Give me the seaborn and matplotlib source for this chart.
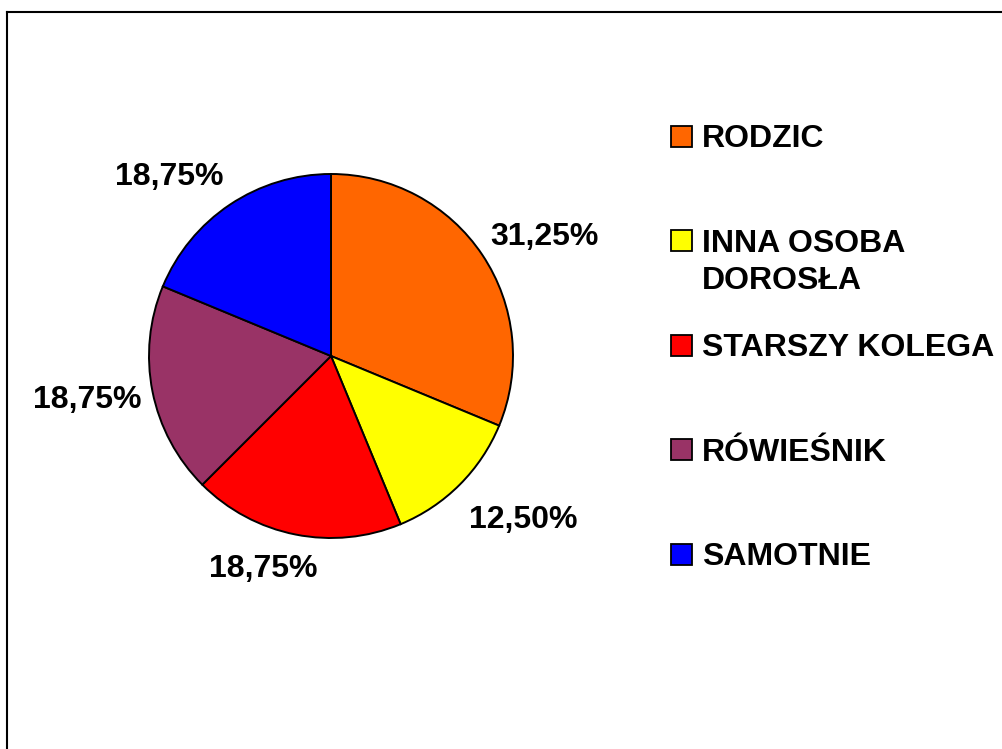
import matplotlib
matplotlib.use("Agg")
import matplotlib.pyplot as plt
from matplotlib.patches import Rectangle
from matplotlib.lines import Line2D
import seaborn as sns

# data
categories = ["RODZIC", "INNA OSOBA\nDOROSŁA", "STARSZY KOLEGA", "RÓWIEŚNIK", "SAMOTNIE"]
shares = [31.25, 12.50, 18.75, 18.75, 18.75]
colors = ["#FF6600", "#FFFF00", "#FF0000", "#993366", "#0000FF"]

# label centres in pie-radius units (layout only)
label_xy = [(1.173, 0.674), (1.058, -0.881), (-0.370, -1.153), (-1.338, -0.224), (-0.886, 1.005)]

sns.set_theme(style="white")
plt.rcParams["font.family"] = ["Liberation Sans", "DejaVu Sans"]

W, H = 1003, 749
fig = plt.figure(figsize=(W / 100, H / 100), dpi=100)
fig.patch.set_facecolor("white")

# pie: centre (331, 356) px, radius 182 px
cx, cy, r = 331, 356, 182
span = 1.5
ax = fig.add_axes([(cx - span * r) / W, (H - cy - span * r) / H, 2 * span * r / W, 2 * span * r / H])
ax.pie(shares, colors=colors, startangle=90, counterclock=False, radius=1,
       wedgeprops=dict(edgecolor="black", linewidth=1.4))
ax.set_xlim(-span, span)
ax.set_ylim(-span, span)
ax.set_aspect("equal")
ax.axis("off")

cap = 11.5 / r  # half cap height in radius units
for v, (lx, ly) in zip(shares, label_xy):
    txt = f"{v:.2f}%".replace(".", ",")
    ax.text(lx, ly - cap, txt, ha="center", va="baseline",
            fontsize=23, fontweight="bold", color="black")

# legend drawn by hand (second entry wraps over two lines)
sq = 21
row0, step, line_gap = 136, 104.5, 37.5
for i, (name, col) in enumerate(zip(categories, colors)):
    yc = row0 + i * step
    fig.patches.append(Rectangle((671.5 / W, (H - yc - sq / 2) / H), sq / W, sq / H,
                                 transform=fig.transFigure, facecolor=col,
                                 edgecolor="black", linewidth=1.3))
    for j, line in enumerate(name.split("\n")):
        yb = yc + j * line_gap + 11.3
        fig.text(702 / W, (H - yb) / H, line, ha="left", va="baseline",
                 fontsize=23, fontweight="bold", color="black")

# outer frame (only left and top edges fall inside the image)
fig.add_artist(Line2D([7 / W, 7 / W], [0, 1 - 12 / H], transform=fig.transFigure,
                      color="black", linewidth=1.5, solid_capstyle="projecting"))
fig.add_artist(Line2D([7 / W, 1], [1 - 12 / H, 1 - 12 / H], transform=fig.transFigure,
                      color="black", linewidth=1.5, solid_capstyle="projecting"))

fig.savefig("out.png", dpi=100, facecolor="white")
